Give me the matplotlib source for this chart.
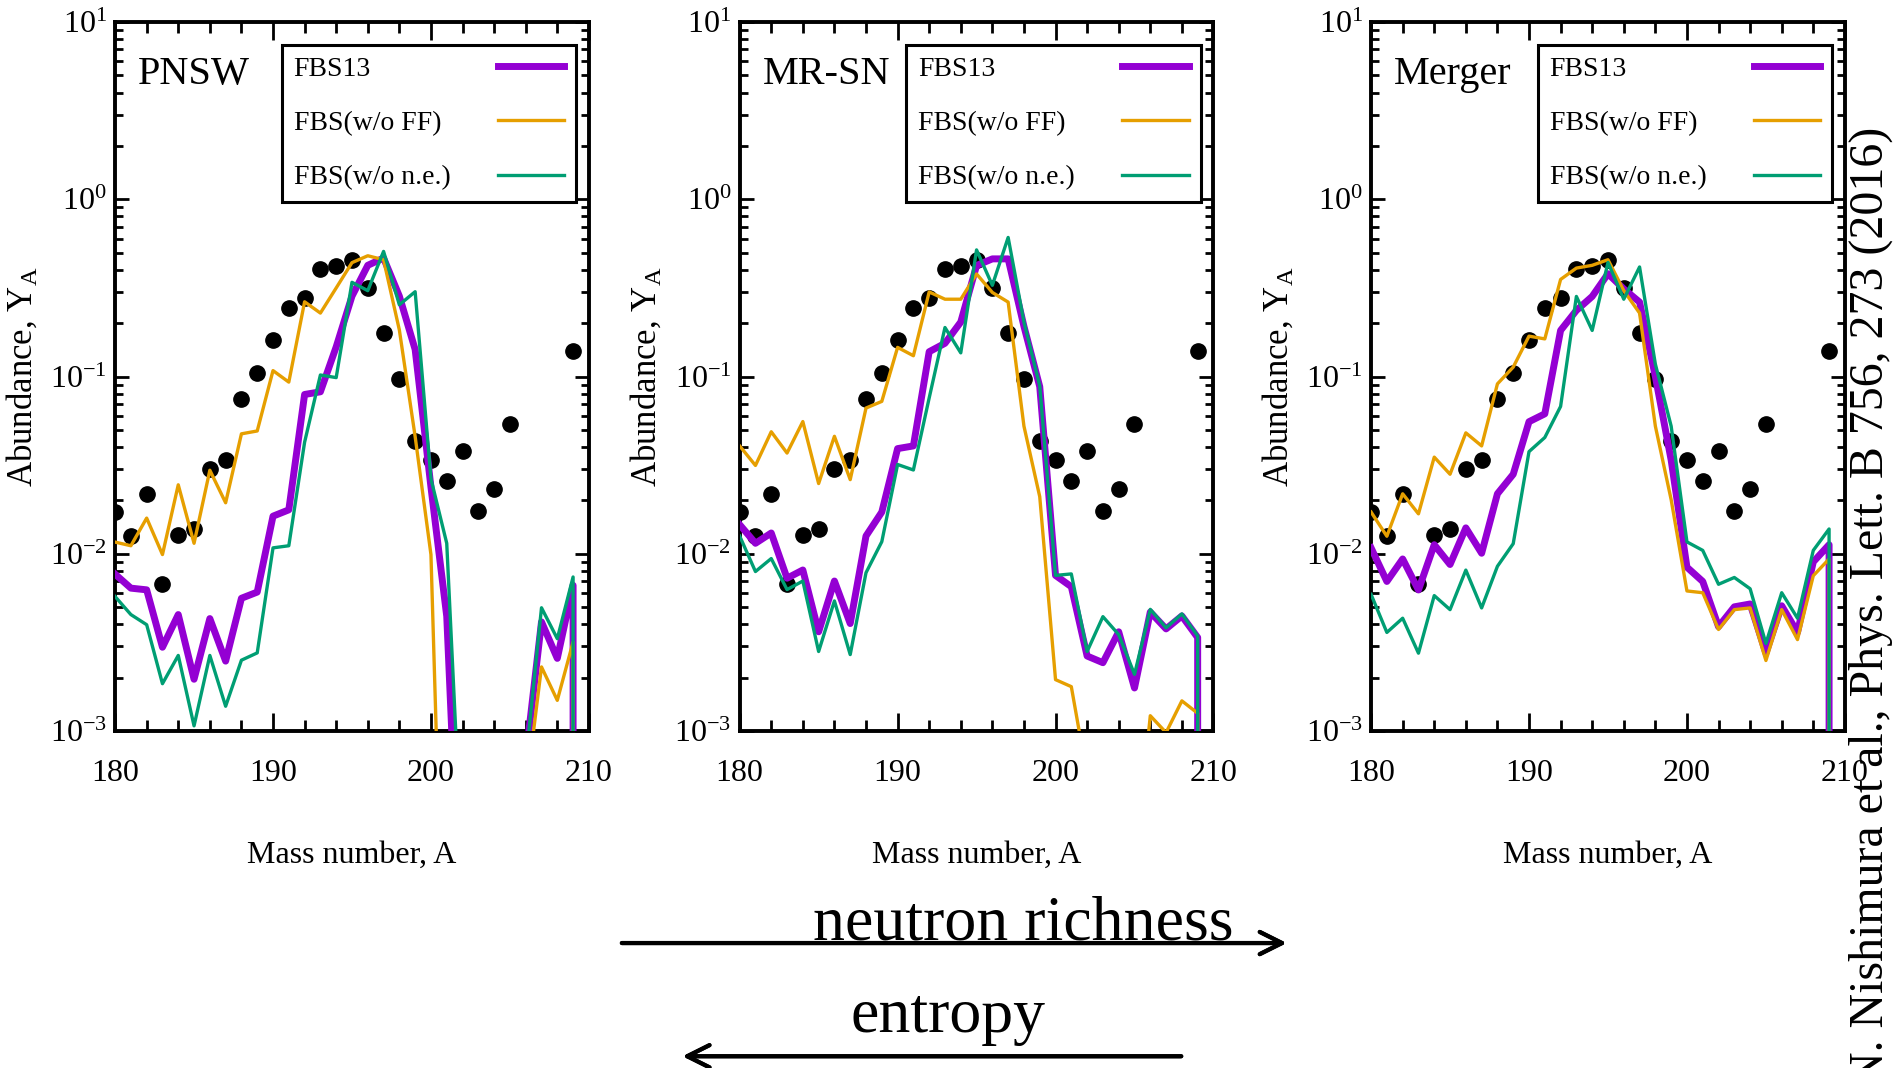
import matplotlib
matplotlib.use("Agg")
import matplotlib.pyplot as plt
from matplotlib.ticker import MultipleLocator, LogLocator, NullFormatter

plt.rcParams['font.family'] = ['Liberation Serif', 'DejaVu Serif']
plt.rcParams['mathtext.fontset'] = 'custom'
plt.rcParams['mathtext.rm'] = 'Liberation Serif'
plt.rcParams['mathtext.it'] = 'Liberation Serif:italic'

# mass numbers of the network results
mass = list(range(180, 210))
# curves fall off the bottom at the last mass number
tail_mass = 209
tail_value = 1e-6

# solar r-process abundances (dots)
solar_mass = list(range(180, 206)) + [209]
solar_y = [0.0171, 0.0126, 0.0218, 0.00673, 0.0128, 0.0138, 0.030, 0.0337, 0.0747, 0.105,
           0.160, 0.245, 0.277, 0.405, 0.421, 0.453, 0.314, 0.177, 0.0964, 0.0432,
           0.0337, 0.0259, 0.0379, 0.0175, 0.0233, 0.0542, 0.140]

# PNSW
pnsw_fbs13 = [0.00768, 0.0064, 0.00626, 0.00297, 0.00454, 0.00196, 0.00431, 0.00248, 0.00561, 0.00608,
              0.0163, 0.0177, 0.0792, 0.082, 0.147, 0.284, 0.424, 0.466, 0.284, 0.142,
              0.0238, 0.00444, 4e-5, 1e-5, 1e-5, 1e-5, 7e-4, 0.00413, 0.00257, 0.00664]
pnsw_noff = [0.01164, 0.0111, 0.0159, 0.0099, 0.0245, 0.01146, 0.0296, 0.0194, 0.0475, 0.0493,
             0.108, 0.093, 0.264, 0.228, 0.316, 0.439, 0.48, 0.456, 0.183, 0.0458,
             0.0099, 1e-5, 1e-5, 1e-5, 1e-5, 1e-5, 4.4e-4, 0.0023, 0.00149, 0.00318]
pnsw_none = [0.00574, 0.00454, 0.00398, 0.00185, 0.00267, 0.00107, 0.00267, 0.00138, 0.00251, 0.00276,
             0.0108, 0.0111, 0.0426, 0.102, 0.0986, 0.34, 0.305, 0.508, 0.254, 0.301,
             0.0265, 0.01146, 1.6e-4, 1e-5, 1e-5, 1e-5, 6.7e-4, 0.00496, 0.00332, 0.0074]

# MR-SN
mrsn_fbs13 = [0.0146, 0.01146, 0.0131, 0.00728, 0.0081, 0.00363, 0.00702, 0.00404, 0.0126, 0.0172,
              0.0392, 0.0406, 0.138, 0.154, 0.203, 0.423, 0.461, 0.461, 0.192, 0.0877,
              0.00755, 0.00652, 0.00265, 0.00243, 0.00363, 0.00175, 0.00469, 0.00377, 0.00446, 0.00337]
mrsn_noff = [0.0406, 0.0315, 0.0488, 0.037, 0.0557, 0.0249, 0.046, 0.0262, 0.0664, 0.0724,
             0.146, 0.131, 0.30, 0.273, 0.273, 0.379, 0.298, 0.263, 0.0525, 0.021,
             0.00195, 0.00178, 5.6e-4, 3e-4, 3e-4, 1.6e-4, 0.00122, 0.00098, 0.00148, 0.00126]
mrsn_none = [0.0126, 0.00794, 0.0094, 0.00628, 0.00702, 0.00281, 0.00542, 0.0027, 0.00782, 0.0117,
             0.0319, 0.0297, 0.0757, 0.189, 0.136, 0.518, 0.327, 0.609, 0.203, 0.0888,
             0.00755, 0.0077, 0.00281, 0.00442, 0.0035, 0.00209, 0.00486, 0.00382, 0.00458, 0.00344]

# Merger
merger_fbs13 = [0.0108, 0.00698, 0.00935, 0.00625, 0.01125, 0.0087, 0.014, 0.01007, 0.0218, 0.0281,
                0.0556, 0.0616, 0.182, 0.236, 0.283, 0.38, 0.312, 0.263, 0.1, 0.0338,
                0.0084, 0.00698, 0.00388, 0.00502, 0.00521, 0.00275, 0.00509, 0.0036, 0.009, 0.01125]
merger_noff = [0.0172, 0.01256, 0.0218, 0.0168, 0.0351, 0.0281, 0.0481, 0.0406, 0.0909, 0.113,
               0.169, 0.163, 0.353, 0.409, 0.424, 0.456, 0.305, 0.228, 0.0525, 0.0202,
               0.00617, 0.00603, 0.00374, 0.00484, 0.00495, 0.0025, 0.00484, 0.00328, 0.00752, 0.00935]
merger_none = [0.0059, 0.0036, 0.00433, 0.00275, 0.00581, 0.00484, 0.00809, 0.00495, 0.0085, 0.0114,
               0.0377, 0.0453, 0.0678, 0.283, 0.182, 0.44, 0.273, 0.415, 0.1175, 0.0525,
               0.01167, 0.01045, 0.00673, 0.00735, 0.00635, 0.00312, 0.00603, 0.00433, 0.01045, 0.0138]

panel_names = ["PNSW", "MR-SN", "Merger"]
panel_data = [(pnsw_fbs13, pnsw_noff, pnsw_none),
              (mrsn_fbs13, mrsn_noff, mrsn_none),
              (merger_fbs13, merger_noff, merger_none)]
labels = ["FBS13", "FBS(w/o FF)", "FBS(w/o n.e.)"]
colors = ["#9400d3", "#e69f00", "#009e73"]
widths = [5.0, 2.4, 2.4]

fig = plt.figure(figsize=(18.99, 10.68), dpi=100)
lefts = [0.0606, 0.3895, 0.7220]

for left, name, series in zip(lefts, panel_names, panel_data):
    ax = fig.add_axes([left, 0.3155, 0.2495, 0.6639])
    ax.plot(solar_mass, solar_y, 'o', color='black', markersize=11, zorder=2)
    handles = []
    for vals, c, lw, lab in zip(series, colors, widths, labels):
        ln, = ax.plot(mass + [tail_mass], vals + [tail_value], color=c, lw=lw, label=lab, zorder=3)
        handles.append(ln)

    ax.set_yscale('log')
    ax.set_xlim(180, 210)
    ax.set_ylim(1e-3, 1e1)
    ax.xaxis.set_major_locator(MultipleLocator(10))
    ax.xaxis.set_minor_locator(MultipleLocator(2))
    ax.yaxis.set_major_locator(LogLocator(base=10, numticks=10))
    ax.yaxis.set_minor_locator(LogLocator(base=10, subs=range(2, 10), numticks=20))
    ax.yaxis.set_minor_formatter(NullFormatter())
    ax.tick_params(axis='both', which='both', direction='in', top=True, right=True, width=2.0)
    ax.tick_params(axis='x', which='major', length=13, labelsize=23, pad=20)
    ax.tick_params(axis='x', which='minor', length=8)
    ax.tick_params(axis='y', which='major', length=10, labelsize=23, pad=6)
    ax.tick_params(axis='y', which='minor', length=6)
    for sp in ax.spines.values():
        sp.set_linewidth(2.8)

    ax.set_xlabel("Mass number, A", fontsize=23)
    ax.xaxis.set_label_coords(0.5, -0.155)
    ax.set_ylabel(r"Abundance, Y$_{\mathrm{A}}$", fontsize=25)
    ax.yaxis.set_label_coords(-0.16, 0.5)

    ax.text(0.048, 0.926, name, transform=ax.transAxes, fontsize=29, ha='left', va='center')

    # labels on the left of the box, line samples on the right
    leg_text = ax.legend(handles, labels, loc='upper left', mode='expand',
                         bbox_to_anchor=(0.352, 0.739, 0.621, 0.2285), borderaxespad=0,
                         fontsize=20, handlelength=0, handletextpad=0, labelspacing=1.03,
                         borderpad=0.42, fancybox=False, edgecolor='black', framealpha=1)
    leg_text.get_frame().set_linewidth(2.2)
    for h in leg_text.legend_handles:
        h.set_visible(False)
    ax.add_artist(leg_text)
    ax.legend(handles, [''] * 3, loc='upper right', bbox_to_anchor=(0.973, 0.9675),
              borderaxespad=0, fontsize=20, handlelength=2.4, handletextpad=0,
              labelspacing=1.03, borderpad=0.42, frameon=False)

# direction arrows under the panels
fig.text(0.539, 0.12, "neutron richness", fontsize=46, ha='center', va='baseline')
fig.add_artist(plt.annotate("", xy=(0.679, 0.117), xytext=(0.326, 0.117), xycoords='figure fraction',
                            arrowprops=dict(arrowstyle='->', lw=3, color='black', mutation_scale=40)))
fig.text(0.499, 0.034, "entropy", fontsize=46, ha='center', va='baseline')
fig.add_artist(plt.annotate("", xy=(0.358, 0.011), xytext=(0.6235, 0.011), xycoords='figure fraction',
                            arrowprops=dict(arrowstyle='->', lw=3, color='black', mutation_scale=40)))

fig.text(0.985, 0.881, "N. Nishimura et al., Phys. Lett. B 756, 273 (2016)", fontsize=34.5,
         rotation=90, ha='center', va='top')

fig.savefig("out.png", dpi=100)
